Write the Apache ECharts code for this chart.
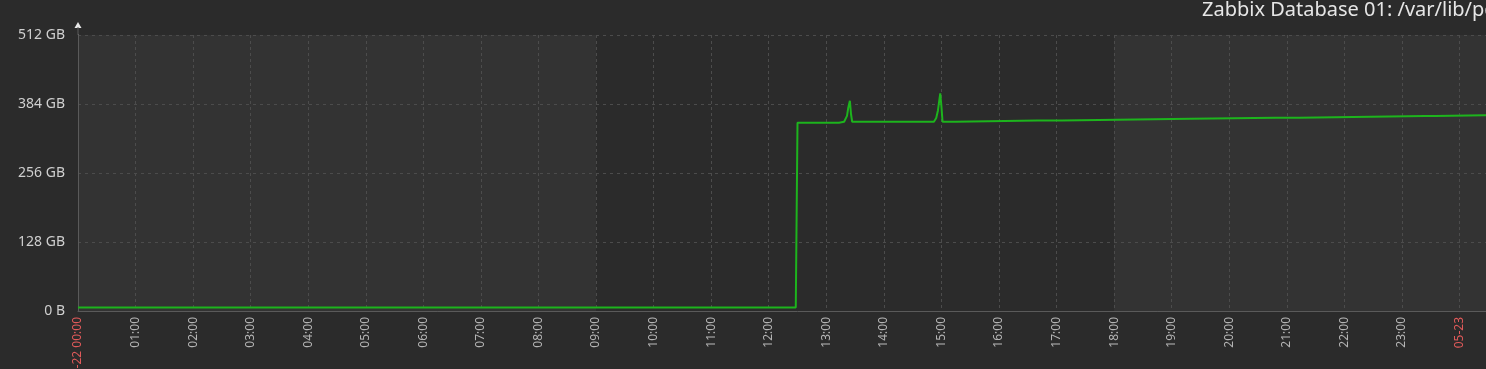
<!DOCTYPE html>
<html>
<head>
<meta charset="utf-8">
<script src="https://cdn.jsdelivr.net/npm/echarts@6/dist/echarts.min.js"></script>
<style>
  html, body { margin: 0; padding: 0; background: #2b2b2b; overflow: hidden; }
  #chart { width: 1600px; height: 369px; }
</style>
</head>
<body>
<div id="chart"></div>
<script>
// ---- data (hours since 05-22 00:00, used space in GB) ----
const hours = [0, 12.47, 12.50, 13.22, 13.23, 13.31, 13.36, 13.38, 13.41, 13.43, 13.45,
  14.87, 14.91, 14.94, 14.98, 15.00, 15.02, 15.24, 15.25,
  16.67, 16.69, 16.71, 17.09, 17.10, 19.33, 19.34,
  20.80, 20.82, 20.84, 21.21, 21.22, 23.40, 23.41, 23.43, 23.58, 23.59, 25];
const usedGB = [6.5, 6.5, 349.3, 349.3, 351.1, 351.1, 362, 376, 390.1, 365, 351.1,
  351.1, 358, 372, 403.8, 380, 351.1, 351.1, 353.5,
  353.5, 356, 353.5, 353.5, 356.7, 356.7, 358.6,
  358.6, 361, 358.6, 358.6, 361.7, 361.7, 364, 361.7, 361.7, 364.2, 364.2];

// non-working periods (lighter background)
const shadeRanges = [[0, 9], [18, 25]];

// tick labels
const hourLabels = ['05-22 00:00', '01:00', '02:00', '03:00', '04:00', '05:00', '06:00', '07:00',
  '08:00', '09:00', '10:00', '11:00', '12:00', '13:00', '14:00', '15:00', '16:00', '17:00',
  '18:00', '19:00', '20:00', '21:00', '22:00', '23:00', '05-23', '01:00'];
const redLabels = ['05-22 00:00', '05-23'];
const yLabels = ['0 B', '128 GB', '256 GB', '384 GB', '512 GB'];
const titleText = 'Zabbix Database 01: /var/lib/pgsql: Used space';

const FONT = '"Noto Sans", "Open Sans", sans-serif';
const chart = echarts.init(document.getElementById('chart'), null, { renderer: 'canvas' });

const points = hours.map((h, i) => [h, usedGB[i]]);

chart.setOption({
  backgroundColor: '#2b2b2b',
  animation: false,
  title: {
    text: titleText,
    left: 1202, top: 0, padding: 0,
    textStyle: { color: '#e6e6e6', fontSize: 20, fontWeight: 'normal', fontFamily: FONT }
  },
  grid: { left: 78, right: 83, top: 35, bottom: 58, containLabel: false, outerBoundsMode: 'none' },
  xAxis: {
    type: 'value', min: 0, max: 25, interval: 1, z: 3,
    axisLine: { show: true, onZero: false, lineStyle: { color: '#5a5a5a', width: 1 } },
    axisTick: { show: false },
    splitLine: { show: true, lineStyle: { color: '#4c4c4c', type: [3, 3], width: 1 } },
    axisLabel: {
      rotate: 90, margin: 6, fontSize: 12, fontFamily: FONT, color: '#b4b4b4',
      showMaxLabel: false,
      formatter: function (v) {
        if (Math.round(v) !== v) return '';
        const t = hourLabels[v] || '';
        return redLabels.indexOf(t) >= 0 ? '{r|' + t + '}' : t;
      },
      rich: { r: { color: '#e05a5a', fontSize: 12, fontFamily: FONT } }
    }
  },
  yAxis: [{
    type: 'value', min: 0, max: 512, interval: 128, z: 3,
    axisLine: { show: true, symbol: ['none', 'rect'], symbolSize: [1, 8], symbolOffset: [0, 4],
      lineStyle: { color: '#5a5a5a', width: 1 } },
    axisTick: { show: false },
    splitLine: { show: true, lineStyle: { color: '#4c4c4c', type: [3, 4], width: 1 } },
    axisLabel: {
      margin: 13, fontSize: 14, fontFamily: FONT, color: '#cfcfcf',
      formatter: function (v) { return yLabels[Math.round(v / 128)] || ''; }
    }
  }, {
    type: 'value', min: 0, max: 512, interval: 128, z: 2, position: 'left',
    axisLine: { show: true, symbol: ['none', 'triangle'], symbolSize: [7, 6], symbolOffset: [0, 10],
      lineStyle: { color: '#e8e8e8', width: 1 } },
    axisTick: { show: false }, splitLine: { show: false }, axisLabel: { show: false }
  }],
  series: [{
    type: 'line', data: [], z: 1, silent: true,
    markArea: {
      silent: true,
      itemStyle: { color: '#333333' },
      data: shadeRanges.map(r => [{ xAxis: r[0] }, { xAxis: r[1] }])
    }
  }, {
    type: 'line', data: points, z: 4, yAxisIndex: 0,
    showSymbol: false, symbol: 'none',
    lineStyle: { color: '#1db41d', width: 2 },
    silent: true
  }]
});
</script>
</body>
</html>
